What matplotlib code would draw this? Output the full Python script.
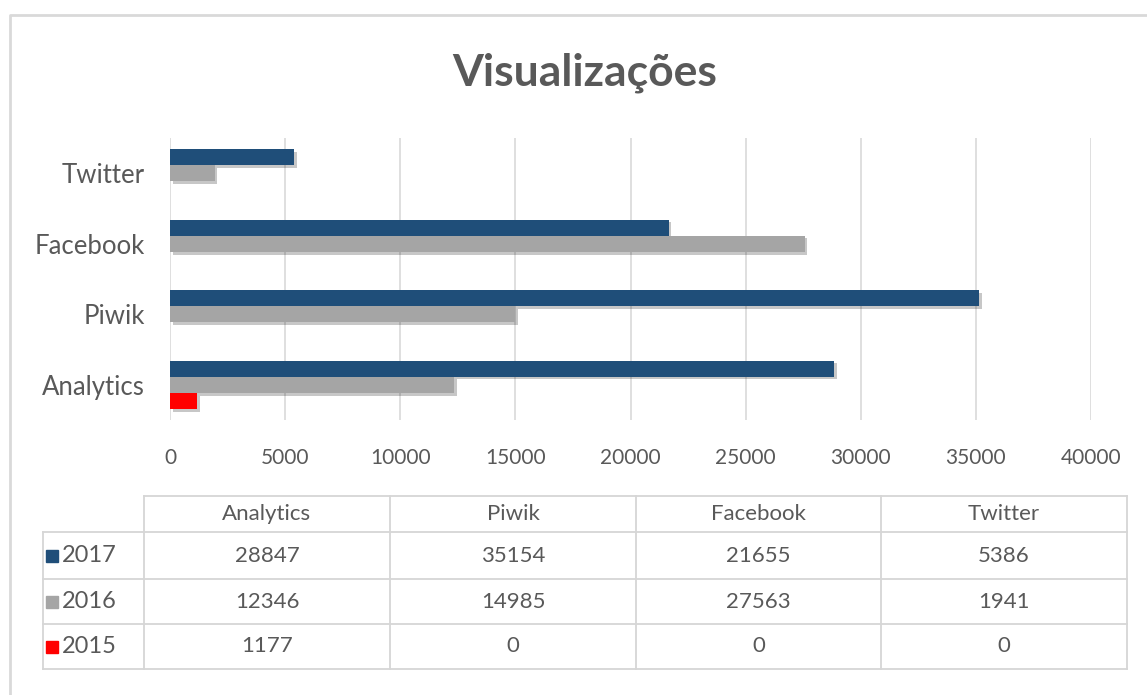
import numpy as np
import matplotlib
matplotlib.use("Agg")
import matplotlib.pyplot as plt
import matplotlib.patheffects as pe
from matplotlib.patches import Rectangle

plt.rcParams['font.family'] = ['Lato', 'DejaVu Sans']

# data
categories = ["Analytics", "Piwik", "Facebook", "Twitter"]
years = ["2017", "2016", "2015"]
v2017 = [28847, 35154, 21655, 5386]
v2016 = [12346, 14985, 27563, 1941]
v2015 = [1177, 0, 0, 0]
series = [v2017, v2016, v2015]
colors = ["#1F4E79", "#A5A5A5", "#FF0000"]
xticks = [0, 5000, 10000, 15000, 20000, 25000, 30000, 35000, 40000]

TXT = "#595959"
GRID = "#D9D9D9"
W, H = 1147, 695

fig = plt.figure(figsize=(W / 100, H / 100), dpi=100)

# outer chart frame (pixel coords overlay)
ov = fig.add_axes([0, 0, 1, 1])
ov.set_xlim(0, W)
ov.set_ylim(H, 0)
ov.axis("off")
ov.plot([10, 10, W + 5], [H + 5, 15, 15], color=GRID, lw=2, solid_capstyle="butt")

fig.text(585 / W, 1 - 73 / H, "Visualizações", ha="center", va="center",
         fontsize=32, fontweight="bold", color=TXT)

# bar chart
ax = fig.add_axes([170 / W, 1 - 420 / H, 921 / W, 282 / H])
y = np.arange(len(categories))
bh = 0.228
offsets = [bh, 0, -bh]
for vals, off, c in zip(series, offsets, colors):
    bars = ax.barh(y + off, vals, height=bh, color=c, zorder=3)
    for b in bars:
        b.set_path_effects([pe.SimplePatchShadow(offset=(2, -2), shadow_rgbFace="#000000", alpha=0.22),
                            pe.Normal()])

ax.set_xlim(0, 40000)
ax.set_ylim(-0.5, len(categories) - 0.5)
ax.set_xticks(xticks)
ax.set_xticklabels([str(t) for t in xticks], fontsize=15, color=TXT)
ax.set_yticks(y)
ax.set_yticklabels(categories, fontsize=18.5, color=TXT)
ax.tick_params(length=0)
ax.tick_params(axis="x", pad=20)
ax.tick_params(axis="y", pad=18)
ax.grid(axis="x", color=GRID, lw=1.2, zorder=0)
for s in ax.spines.values():
    s.set_visible(False)

# data table below the chart
col_x = [43, 144, 390, 636, 881, 1127]
row_y = [496, 532, 579, 624, 669]
LINE = "#D6D6D6"
ov.plot([col_x[1], col_x[-1]], [row_y[0], row_y[0]], color=LINE, lw=1.3)
for ry in row_y[1:]:
    ov.plot([col_x[0], col_x[-1]], [ry, ry], color=LINE, lw=1.3)
ov.plot([col_x[0], col_x[0]], [row_y[1], row_y[-1]], color=LINE, lw=1.3)
for cx in col_x[1:]:
    ov.plot([cx, cx], [row_y[0], row_y[-1]], color=LINE, lw=1.3)

for j, cat in enumerate(categories):
    xc = (col_x[j + 1] + col_x[j + 2]) / 2
    ov.text(xc, (row_y[0] + row_y[1]) / 2, cat, ha="center", va="center",
            fontsize=16, color=TXT)
    for i, vals in enumerate(series):
        ov.text(xc, (row_y[i + 1] + row_y[i + 2]) / 2, str(vals[j]), ha="center",
                va="center", fontsize=16, color=TXT)

for i, (yr, c) in enumerate(zip(years, colors)):
    yc = (row_y[i + 1] + row_y[i + 2]) / 2
    ov.add_patch(Rectangle((46, yc - 6), 12, 12, color=c))
    ov.text(62, yc, yr, ha="left", va="center", fontsize=17, color=TXT)

fig.savefig("out.png", dpi=100)
